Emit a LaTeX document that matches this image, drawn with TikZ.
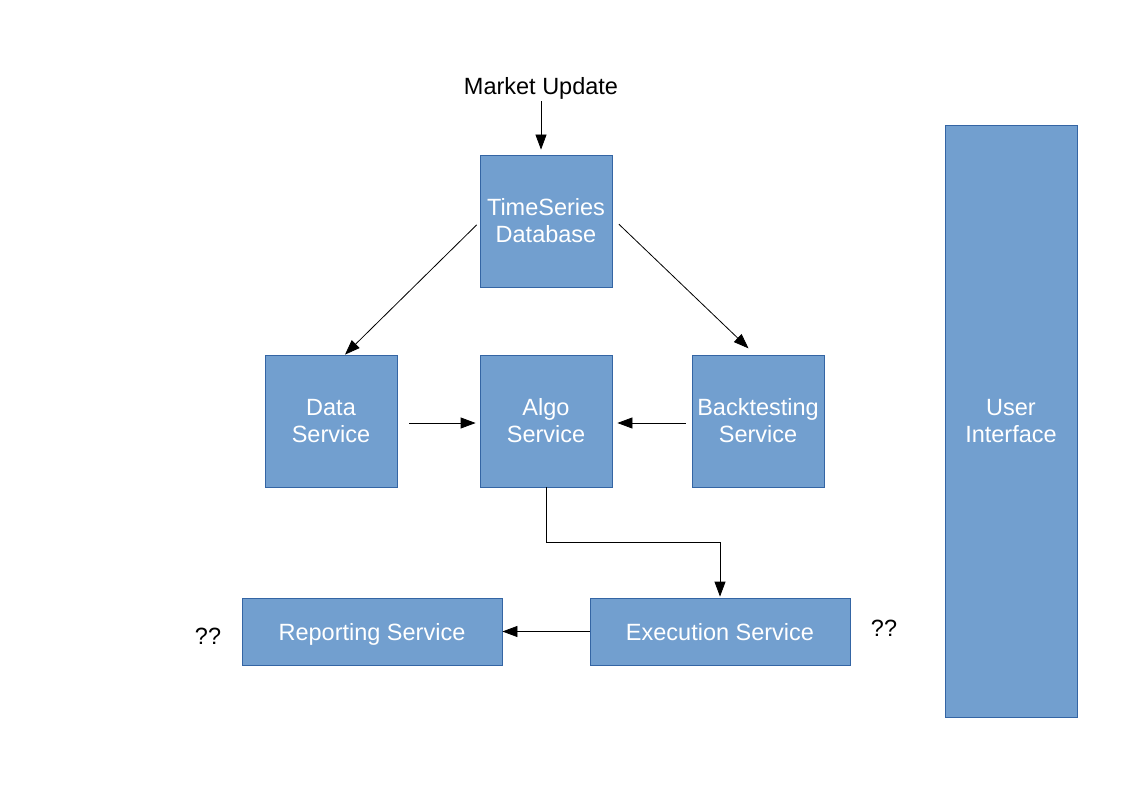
\documentclass[tikz,border=0pt]{standalone}
\usepackage{fontspec}
\setmainfont{Liberation Sans}
\usetikzlibrary{arrows.meta}
\definecolor{boxfill}{HTML}{729FCF}
\definecolor{boxline}{HTML}{3465A4}
\begin{document}
\begin{tikzpicture}[x=1pt,y=-1pt,
  svc/.style={draw=boxline, fill=boxfill, line width=0.8pt, text=white, align=center,
    font=\fontsize{23.5}{27}\selectfont, inner sep=0pt},
  lbl/.style={font=\fontsize{23.5}{27}\selectfont, inner sep=0pt, text=black},
  conn/.style={draw=black, line width=0.8pt, -{Triangle[length=15pt,width=11pt]}}]
\useasboundingbox (0,0) rectangle (1123,794);
\fill[white] (0,0) rectangle (1123,794);

\node[svc, minimum width=132pt, minimum height=132pt] (ts) at (546,221) {TimeSeries\\Database};
\node[svc, minimum width=132pt, minimum height=132pt] (data) at (331,421) {Data\\Service};
\node[svc, minimum width=132pt, minimum height=132pt] (algo) at (546,421) {Algo\\Service};
\node[svc, minimum width=132pt, minimum height=132pt] (bt) at (758,421) {Backtesting\\Service};
\node[svc, minimum width=260pt, minimum height=67pt] (rep) at (372,631.5) {\raisebox{-3pt}[\height][\depth]{Reporting Service}};
\node[svc, minimum width=260pt, minimum height=67pt] (exec) at (720,631.5) {\raisebox{-1pt}[\height][\depth]{Execution Service}};
\node[svc, minimum width=132pt, minimum height=592pt] (ui) at (1011,421) {User\\Interface};

\node[lbl] (mu) at (541,88) {Market Update};
\node[lbl] (q1) at (208,636) {??};
\node[lbl] (q2) at (884,628) {??};

\draw[conn, shorten <=2pt, shorten >=5pt] (mu.south) -- (mu.south |- ts.north);
\draw[conn, shorten <=4pt] ([yshift=-1pt]ts.west) -- ([xshift=14pt]data.north);
\draw[conn, shorten <=9pt, shorten >=9pt] ([yshift=3pt]ts.east) -- ([xshift=-3pt]bt.north);
\draw[conn, shorten <=12pt, shorten >=4pt] ([yshift=-2pt]data.east) -- ([yshift=-2pt]algo.west);
\draw[conn, shorten <=6pt, shorten >=5pt] ([yshift=-2pt]bt.west) -- ([yshift=-2pt]algo.east);
\draw[conn, shorten >=1pt] (algo.south) -- ++(0,55) -| (exec.north);
\draw[conn] (exec.west) -- (rep.east);
\end{tikzpicture}
\end{document}
